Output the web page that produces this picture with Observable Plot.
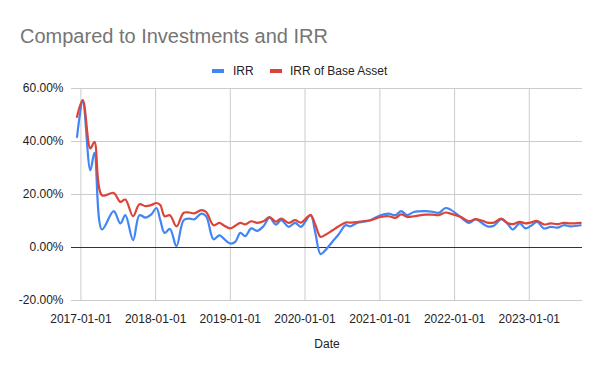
<!DOCTYPE html>
<html><head><meta charset="utf-8">
<script src="https://cdn.jsdelivr.net/npm/d3@7"></script>
<script src="https://cdn.jsdelivr.net/npm/@observablehq/plot@0.6"></script>
<style>
body{margin:0;background:#fff;font-family:Arial,"Liberation Sans",sans-serif;}
#wrap{width:600px;height:371px;position:relative;overflow:hidden;background:#fff}
#head{position:relative;height:80px}
#title{position:absolute;left:20px;top:26px;font-size:20px;line-height:20px;color:#757575;white-space:nowrap}
.sw{position:absolute;width:12px;height:4px;top:69px}
.lt{position:absolute;top:65px;font-size:12px;line-height:12px;color:#222;white-space:nowrap}
#chart svg{display:block}
</style></head><body>
<div id="wrap">
  <div id="head">
    <div id="title">Compared to Investments and IRR</div>
    <div class="sw" style="left:212px;background:#4285F4"></div>
    <div class="lt" style="left:233px" id="l0"></div>
    <div class="sw" style="left:270px;background:#DB4437"></div>
    <div class="lt" style="left:290px" id="l1"></div>
  </div>
  <div id="chart"></div>
</div>
<script>
const seriesNames = ["IRR", "IRR of Base Asset"];
const xTitle = "Date";
const yTicks = [-20, 0, 20, 40, 60];
const xTicks = ["2017-01-01","2018-01-01","2019-01-01","2020-01-01","2021-01-01","2022-01-01","2023-01-01"];
const xDomain = ["2016-11-16", "2023-09-18"];
const dates = [
 "2016-12-13","2017-01-10","2017-02-16","2017-03-08","2017-04-14","2017-06-10","2017-07-13","2017-08-06",
 "2017-09-13","2017-10-14","2017-11-12","2017-12-11","2018-01-05","2018-01-24","2018-02-14","2018-03-12",
 "2018-04-13","2018-05-18","2018-06-15","2018-07-09","2018-08-12","2018-09-05","2018-10-11","2018-11-09",
 "2018-11-29","2019-01-01","2019-01-25","2019-02-19","2019-03-15","2019-04-13","2019-05-13","2019-06-12",
 "2019-07-12","2019-08-11","2019-09-07","2019-10-13","2019-11-14","2019-12-12","2020-01-28","2020-02-21",
 "2020-03-17","2020-04-10","2020-05-13","2020-06-14","2020-07-17","2020-08-10","2020-09-12","2020-10-14",
 "2020-11-16","2021-01-04","2021-02-12","2021-03-18","2021-04-15","2021-05-14","2021-06-16","2021-08-12",
 "2021-09-15","2021-10-16","2021-11-18","2021-12-12","2022-01-30","2022-03-12","2022-04-14","2022-05-24",
 "2022-06-10","2022-07-12","2022-08-17","2022-09-15","2022-10-12","2022-11-15","2022-12-13","2023-01-06",
 "2023-02-09","2023-03-13","2023-04-15","2023-05-18","2023-06-19","2023-07-22","2023-09-09"
];
const irr = [
 41.7,55.0,29.2,35.7,6.8,13.7,9.1,12.2,
 2.8,12.2,11.3,12.5,14.9,10.3,5.5,7.0,
 0.5,10.3,10.9,10.6,12.8,11.8,3.1,4.6,
 3.4,1.5,2.1,5.5,4.3,7.2,6.3,8.0,
 11.3,8.6,10.3,7.8,9.3,7.8,12.2,5.3,
 -2.5,-1.0,2.1,5.0,8.4,8.0,9.3,9.7,
 10.3,12.2,12.8,12.2,13.7,12.2,13.4,13.7,
 13.5,13.1,14.9,14.3,11.5,9.3,10.6,8.7,
 8.0,8.2,10.7,9.1,6.8,9.1,7.2,8.0,
 9.7,7.2,7.8,7.5,8.4,8.0,8.4
];
const irrBase = [
 49.3,55.6,37.4,39.8,19.7,20.6,17.2,18.1,
 11.8,16.3,15.6,16.0,16.8,16.0,11.8,12.2,
 8.0,13.1,13.2,12.9,14.1,13.4,8.4,9.3,
 8.4,7.2,8.2,9.3,8.7,9.9,9.3,9.9,
 11.5,9.8,10.9,9.3,10.3,9.4,12.2,8.5,
 4.0,4.8,6.4,8.0,9.4,9.4,9.6,10.0,
 10.3,11.5,11.8,11.2,12.5,11.5,11.8,12.4,
 12.4,12.2,13.2,12.8,11.6,9.9,10.7,9.9,
 9.4,9.4,10.9,9.3,8.8,9.7,9.1,9.4,
 10.0,8.7,9.1,8.8,9.3,9.1,9.3
];

document.getElementById("l0").textContent = seriesNames[0];
document.getElementById("l1").textContent = seriesNames[1];

const parse = d3.utcParse("%Y-%m-%d");
const rows = [];
dates.forEach((d, i) => rows.push({date: parse(d), value: irr[i], series: seriesNames[0]}));
dates.forEach((d, i) => rows.push({date: parse(d), value: irrBase[i], series: seriesNames[1]}));
const xt = xTicks.map(parse);
const fmtDate = d3.utcFormat("%Y-%m-%d");

const chart = Plot.plot({
  width: 600,
  height: 291,
  marginLeft: 71,
  marginRight: 18,
  marginTop: 8,
  marginBottom: 71,
  style: {fontFamily: "Arial, 'Liberation Sans', sans-serif", fontSize: "12px", color: "#222", background: "#fff"},
  x: {type: "utc", domain: xDomain.map(parse)},
  y: {domain: [-20, 60]},
  color: {domain: seriesNames, range: ["#4285F4", "#DB4437"]},
  marks: [
    Plot.ruleY(yTicks.filter(v => v !== 0), {stroke: "#cccccc", strokeWidth: 1}),
    Plot.ruleX(xt, {stroke: "#cccccc", strokeWidth: 1}),
    Plot.ruleY([0], {stroke: "#333333", strokeWidth: 1}),
    Plot.axisY({ticks: yTicks, tickSize: 0, tickPadding: 8, tickFormat: d => d.toFixed(2) + "%", label: null, fill: "#222"}),
    Plot.axisX({ticks: xt, tickSize: 0, tickPadding: 14, tickFormat: fmtDate, label: null, fill: "#222"}),
    Plot.text([xTitle], {frameAnchor: "bottom", dy: 47, fill: "#222", fontSize: 12}),
    Plot.line(rows, {x: "date", y: "value", z: "series", stroke: "series", strokeWidth: 2.2, curve: "catmull-rom"})
  ]
});
document.getElementById("chart").appendChild(chart);
</script>
</body></html>
